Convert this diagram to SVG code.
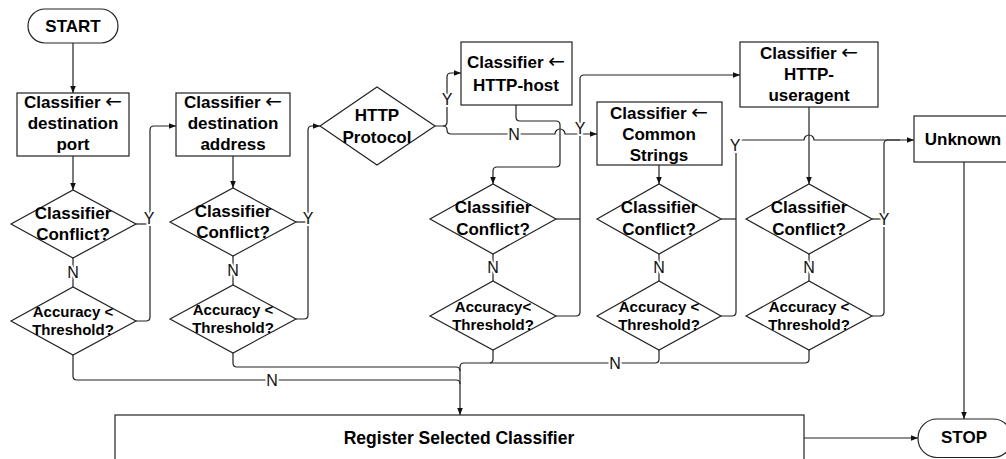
<svg xmlns="http://www.w3.org/2000/svg" width="1006" height="459" viewBox="0 0 1006 459">
  <style>
    .shape { fill: #fff; stroke: #222; stroke-width: 1.2; }
    .t { font-family: "Liberation Sans", Arial, "DejaVu Sans", sans-serif; font-weight: bold; font-size: 17px; text-anchor: middle; fill: #000; }
    .ts { font-size: 15px; }
    .ar { font-family: "DejaVu Sans", sans-serif; font-weight: normal; font-size: 20px; }
    .c { fill: none; stroke: #222; stroke-width: 1.2; }
    .arr { marker-end: url(#ah); }
    .lbl { font-family: "Liberation Sans", Arial, sans-serif; font-size: 16px; text-anchor: middle; fill: #111; stroke: #fff; stroke-width: 4; paint-order: stroke; }
  </style>
  <defs>
    <marker id="ah" viewBox="0 0 10 10" refX="10" refY="5" markerWidth="8" markerHeight="7" markerUnits="userSpaceOnUse" orient="auto">
      <path d="M0,1 L10,5 L0,9 z" fill="#111"/>
    </marker>
  </defs>
  <rect width="1006" height="459" fill="#fff"/>

  <!-- connectors -->
  <g id="connectors">
    <path class="c arr" d="M73,43 V93"/>
    <path class="c arr" d="M73,156 V190"/>
    <path class="c" d="M73,258 V287"/>
    <path class="c arr" d="M136,321 H146 Q150,321 150,317 V130 Q150,126 154,126 H176"/>
    <path class="c" d="M136,224 H150"/>
    <path class="c arr" d="M233,156 V188"/>
    <path class="c" d="M233,256 V285"/>
    <path class="c arr" d="M296,319 H304 Q308,319 308,315 V130 Q308,126 312,126 H320"/>
    <path class="c" d="M296,222 H308"/>
    <path class="c arr" d="M435,126 H443 Q447,126 447,122 V77 Q447,73 451,73 H461"/>
    <path class="c arr" d="M443,126 Q447,126 447,130 Q447,134 451,134 H555 A5,5 0 0 1 565,134 H597"/>
    <path class="c arr" d="M516,105 V117 Q516,121 520,121 H556 Q560,121 560,125 V163 Q560,167 556,167 H497 Q493,167 493,171 V184"/>
    <path class="c arr" d="M556,316 H576 Q580,316 580,312 V79 Q580,75 584,75 H740"/>
    <path class="c" d="M556,219 H580"/>
    <path class="c" d="M493,254 V281"/>
    <path class="c arr" d="M659,165 V184"/>
    <path class="c" d="M659,254 V281"/>
    <path class="c arr" d="M721,316 H732 Q736,316 736,312 V144 Q736,140 740,140 H804 A5,5 0 0 1 814,140 H914"/>
    <path class="c" d="M721,219 H736"/>
    <path class="c arr" d="M809,107 V184"/>
    <path class="c" d="M809,254 V281"/>
    <path class="c" d="M872,316 H880 Q884,316 884,312 V144 Q884,140 888,140 H900"/>
    <path class="c" d="M872,219 H884"/>
    <path class="c arr" d="M964,162 V419"/>
    <path class="c arr" d="M804,438 H918"/>
    <path class="c" d="M73,355 V376 Q73,380 77,380 H456 Q460,380 460,384"/>
    <path class="c" d="M233,353 V363 Q233,367 237,367 H456 Q460,367 460,371"/>
    <path class="c arr" d="M493,350 V359 Q493,363 489,363 H464 Q460,363 460,367 V415"/>
    <path class="c" d="M659,350 V359 Q659,363 655,363 H490"/>
    <path class="c" d="M809,350 V359 Q809,363 805,363 H660"/>

    <!-- branch labels -->
    <text class="lbl" x="73" y="278">N</text>
    <text class="lbl" x="233" y="276">N</text>
    <text class="lbl" x="493" y="273">N</text>
    <text class="lbl" x="659" y="273">N</text>
    <text class="lbl" x="809" y="273">N</text>
    <text class="lbl" x="149" y="224">Y</text>
    <text class="lbl" x="308" y="224">Y</text>
    <text class="lbl" x="447" y="105">Y</text>
    <text class="lbl" x="514" y="140">N</text>
    <text class="lbl" x="580" y="134">Y</text>
    <text class="lbl" x="735" y="151">Y</text>
    <text class="lbl" x="884" y="225">Y</text>
    <text class="lbl" x="272" y="386">N</text>
    <text class="lbl" x="615" y="369">N</text>
  </g>

  <g id="start">
    <rect class="shape" x="28" y="9" width="90" height="34" rx="17"/>
    <text class="t" x="73" y="32">START</text>
  </g>

  <g id="cls-dest-port">
    <rect class="shape" x="17" y="93" width="112" height="63"/>
    <text class="t" x="73" y="108">Classifier <tspan class="ar">←</tspan></text>
    <text class="t" x="73" y="129">destination</text>
    <text class="t" x="73" y="150">port</text>
  </g>

  <g id="conflict-1">
    <polygon class="shape" points="11,224 73,190 136,224 73,258"/>
    <text class="t" x="73" y="219">Classifier</text>
    <text class="t" x="73" y="240">Conflict?</text>
  </g>

  <g id="accuracy-1">
    <polygon class="shape" points="11,321 73,287 136,321 73,355"/>
    <text class="t ts" x="73" y="317">Accuracy &lt;</text>
    <text class="t ts" x="73" y="335">Threshold?</text>
  </g>

  <g id="cls-dest-address">
    <rect class="shape" x="176" y="93" width="114" height="63"/>
    <text class="t" x="233" y="108">Classifier <tspan class="ar">←</tspan></text>
    <text class="t" x="233" y="129">destination</text>
    <text class="t" x="233" y="150">address</text>
  </g>

  <g id="conflict-2">
    <polygon class="shape" points="170,222 233,188 296,222 233,256"/>
    <text class="t" x="233" y="217">Classifier</text>
    <text class="t" x="233" y="238">Conflict?</text>
  </g>

  <g id="accuracy-2">
    <polygon class="shape" points="170,319 233,285 296,319 233,353"/>
    <text class="t ts" x="233" y="315">Accuracy &lt;</text>
    <text class="t ts" x="233" y="333">Threshold?</text>
  </g>

  <g id="http-protocol">
    <polygon class="shape" points="320,126 377,87 435,126 377,165"/>
    <text class="t" x="377" y="121">HTTP</text>
    <text class="t" x="377" y="143">Protocol</text>
  </g>

  <g id="cls-http-host">
    <rect class="shape" x="461" y="42" width="111" height="63"/>
    <text class="t" x="516" y="68">Classifier <tspan class="ar">←</tspan></text>
    <text class="t" x="516" y="91">HTTP-host</text>
  </g>

  <g id="conflict-3">
    <polygon class="shape" points="430,219 493,184 556,219 493,254"/>
    <text class="t" x="493" y="213">Classifier</text>
    <text class="t" x="493" y="235">Conflict?</text>
  </g>

  <g id="accuracy-3">
    <polygon class="shape" points="430,316 493,281 556,316 493,350"/>
    <text class="t ts" x="493" y="312">Accuracy&lt;</text>
    <text class="t ts" x="493" y="330">Threshold?</text>
  </g>

  <g id="cls-common-strings">
    <rect class="shape" x="597" y="102" width="125" height="63"/>
    <text class="t" x="659" y="119">Classifier <tspan class="ar">←</tspan></text>
    <text class="t" x="659" y="140">Common</text>
    <text class="t" x="659" y="161">Strings</text>
  </g>

  <g id="conflict-4">
    <polygon class="shape" points="597,219 659,184 721,219 659,254"/>
    <text class="t" x="659" y="213">Classifier</text>
    <text class="t" x="659" y="235">Conflict?</text>
  </g>

  <g id="accuracy-4">
    <polygon class="shape" points="597,316 659,281 721,316 659,350"/>
    <text class="t ts" x="659" y="312">Accuracy &lt;</text>
    <text class="t ts" x="659" y="330">Threshold?</text>
  </g>

  <g id="cls-http-useragent">
    <rect class="shape" x="740" y="42" width="138" height="65"/>
    <text class="t" x="809" y="59">Classifier <tspan class="ar">←</tspan></text>
    <text class="t" x="809" y="80">HTTP-</text>
    <text class="t" x="809" y="101">useragent</text>
  </g>

  <g id="conflict-5">
    <polygon class="shape" points="746,219 809,184 872,219 809,254"/>
    <text class="t" x="809" y="213">Classifier</text>
    <text class="t" x="809" y="235">Conflict?</text>
  </g>

  <g id="accuracy-5">
    <polygon class="shape" points="746,316 809,281 872,316 809,350"/>
    <text class="t ts" x="809" y="312">Accuracy &lt;</text>
    <text class="t ts" x="809" y="330">Threshold?</text>
  </g>

  <g id="unknown">
    <rect class="shape" x="914" y="116" width="110" height="46"/>
    <text class="t" x="963" y="145">Unknown</text>
  </g>

  <g id="register">
    <rect class="shape" x="115" y="415" width="689" height="60"/>
    <text class="t" x="459" y="444" style="font-size:17.5px">Register Selected Classifier</text>
  </g>

  <g id="stop">
    <rect class="shape" x="918" y="419" width="94" height="38.5" rx="19"/>
    <text class="t" x="964" y="443">STOP</text>
  </g>
</svg>
